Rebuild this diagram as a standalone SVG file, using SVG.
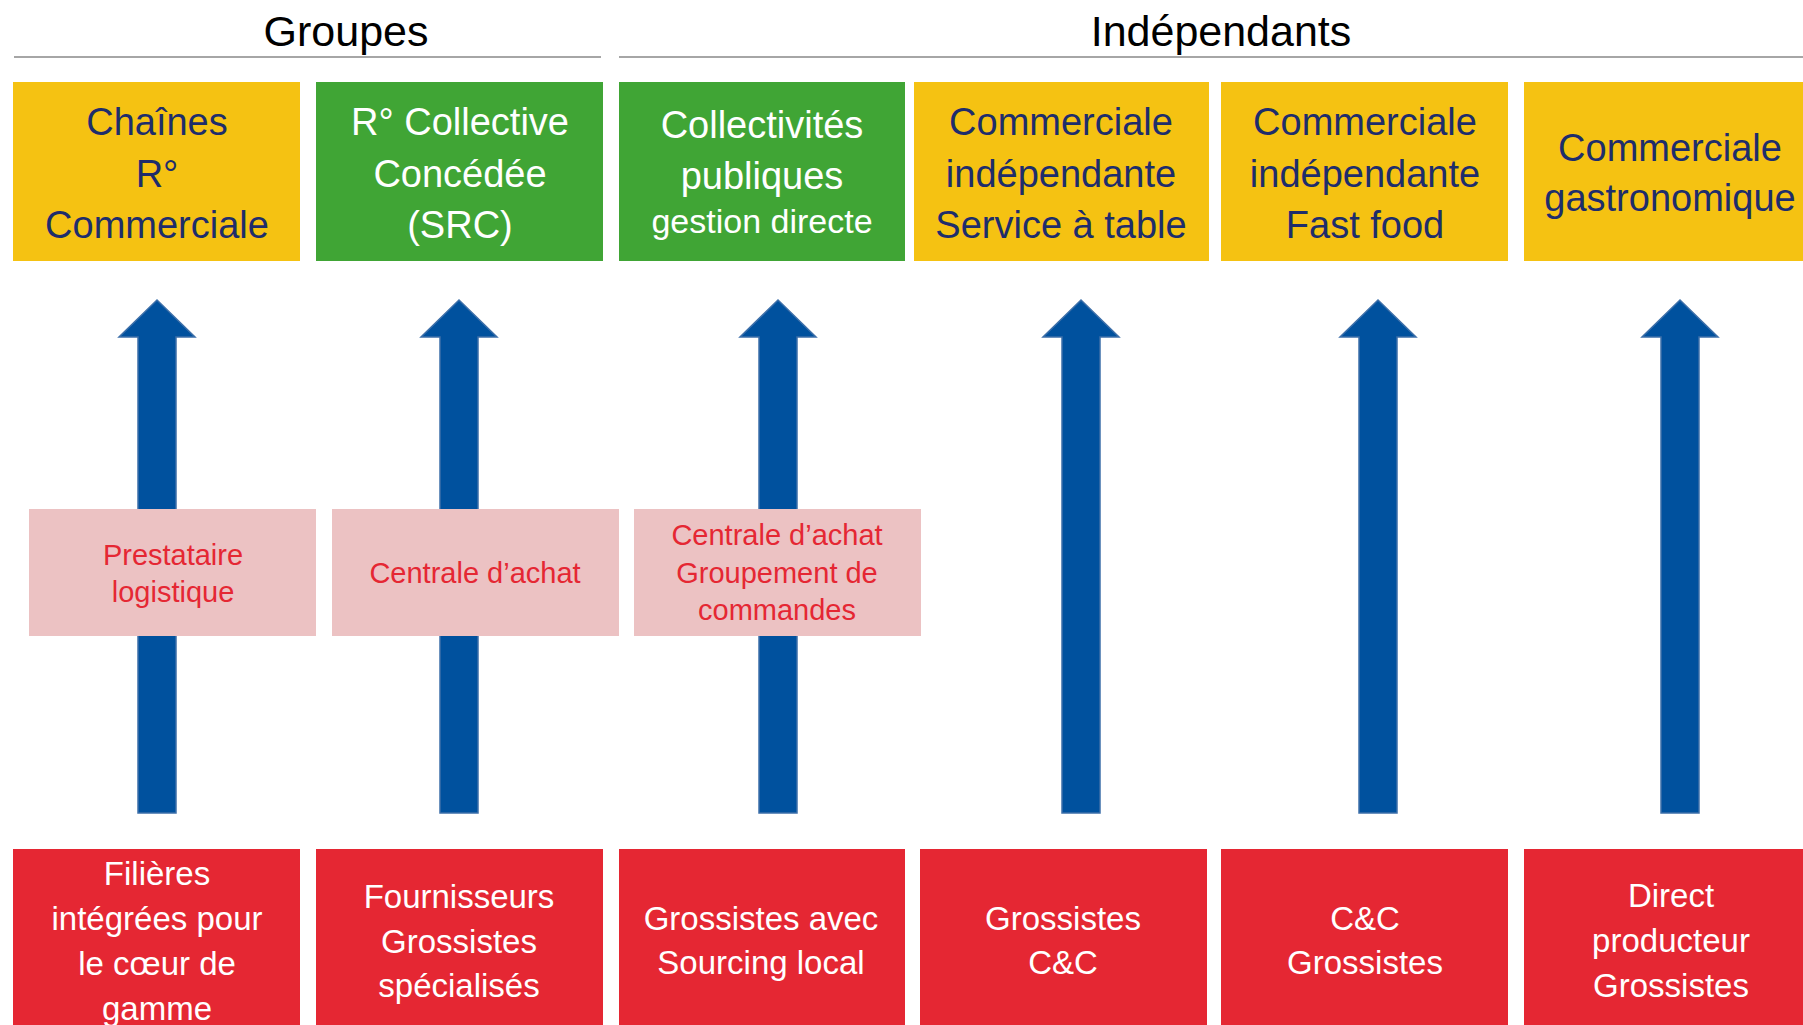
<svg xmlns="http://www.w3.org/2000/svg" width="1803" height="1025" viewBox="0 0 1803 1025">
<style>
text{font-family:"Liberation Sans",Arial,sans-serif;text-anchor:middle}
.title{font-size:43px;fill:#000}
.hline{stroke:#A6A6A6;stroke-width:2}
.yel{fill:#F5C212}
.grn{fill:#40A535}
.red{fill:#E52733}
.pink{fill:#ECC2C3}
.tn{font-size:38px;fill:#1E2D6B}
.tw{font-size:38px;fill:#fff}
.ts{font-size:34px;fill:#fff}
.tp{font-size:29px;fill:#E52733}
.tb{font-size:33px;fill:#fff}
.arrow{fill:#00519E;stroke:#3D6FA9;stroke-width:1.5}
</style>
<defs>
<path id="arr" d="M0,0 L38,37 L19,37 L19,513 L-19,513 L-19,37 L-38,37 Z"/>
</defs>
<g id="headers">
<text class="title" x="346" y="46">Groupes</text>
<line class="hline" x1="14" y1="57" x2="601" y2="57"/>
<text class="title" x="1221" y="46">Indépendants</text>
<line class="hline" x1="619" y1="57" x2="1803" y2="57"/>
</g>
<g id="connectors">
<use href="#arr" class="arrow" x="157" y="300"/>
<use href="#arr" class="arrow" x="459" y="300"/>
<use href="#arr" class="arrow" x="778" y="300"/>
<use href="#arr" class="arrow" x="1081" y="300"/>
<use href="#arr" class="arrow" x="1378" y="300"/>
<use href="#arr" class="arrow" x="1680" y="300"/>
</g>
<g id="top1"><rect class="yel" x="13" y="82" width="287" height="179"/>
<text class="tn" x="157" y="135">Chaînes</text><text class="tn" x="157" y="187">R°</text><text class="tn" x="157" y="238">Commerciale</text></g>
<g id="top2"><rect class="grn" x="316" y="82" width="287" height="179"/>
<text class="tw" x="460" y="135">R° Collective</text><text class="tw" x="460" y="187">Concédée</text><text class="tw" x="460" y="238">(SRC)</text></g>
<g id="top3"><rect class="grn" x="619" y="82" width="286" height="179"/>
<text class="tw" x="762" y="138">Collectivités</text><text class="tw" x="762" y="189">publiques</text><text class="ts" x="762" y="233">gestion directe</text></g>
<g id="top4"><rect class="yel" x="914" y="82" width="295" height="179"/>
<text class="tn" x="1061" y="135">Commerciale</text><text class="tn" x="1061" y="187">indépendante</text><text class="tn" x="1061" y="238">Service à table</text></g>
<g id="top5"><rect class="yel" x="1221" y="82" width="287" height="179"/>
<text class="tn" x="1365" y="135">Commerciale</text><text class="tn" x="1365" y="187">indépendante</text><text class="tn" x="1365" y="238">Fast food</text></g>
<g id="top6"><rect class="yel" x="1524" y="82" width="290" height="179"/>
<text class="tn" x="1670" y="161">Commerciale</text><text class="tn" x="1670" y="211">gastronomique</text></g>
<g id="mid1"><rect class="pink" x="29" y="509" width="287" height="127"/>
<text class="tp" x="173" y="565">Prestataire</text><text class="tp" x="173" y="602">logistique</text></g>
<g id="mid2"><rect class="pink" x="332" y="509" width="287" height="127"/>
<text class="tp" x="475" y="583">Centrale d’achat</text></g>
<g id="mid3"><rect class="pink" x="634" y="509" width="287" height="127"/>
<text class="tp" x="777" y="545">Centrale d’achat</text><text class="tp" x="777" y="583">Groupement de</text><text class="tp" x="777" y="620">commandes</text></g>
<g id="bot1"><rect class="red" x="13" y="849" width="287" height="176"/>
<text class="tb" x="157" y="885">Filières</text><text class="tb" x="157" y="930">intégrées pour</text><text class="tb" x="157" y="975">le cœur de</text><text class="tb" x="157" y="1020">gamme</text></g>
<g id="bot2"><rect class="red" x="316" y="849" width="287" height="176"/>
<text class="tb" x="459" y="908">Fournisseurs</text><text class="tb" x="459" y="953">Grossistes</text><text class="tb" x="459" y="997">spécialisés</text></g>
<g id="bot3"><rect class="red" x="619" y="849" width="286" height="176"/>
<text class="tb" x="761" y="930">Grossistes avec</text><text class="tb" x="761" y="974">Sourcing local</text></g>
<g id="bot4"><rect class="red" x="920" y="849" width="287" height="176"/>
<text class="tb" x="1063" y="930">Grossistes</text><text class="tb" x="1063" y="974">C&amp;C</text></g>
<g id="bot5"><rect class="red" x="1221" y="849" width="287" height="176"/>
<text class="tb" x="1365" y="930">C&amp;C</text><text class="tb" x="1365" y="974">Grossistes</text></g>
<g id="bot6"><rect class="red" x="1524" y="849" width="290" height="176"/>
<text class="tb" x="1671" y="907">Direct</text><text class="tb" x="1671" y="952">producteur</text><text class="tb" x="1671" y="997">Grossistes</text></g>
</svg>
